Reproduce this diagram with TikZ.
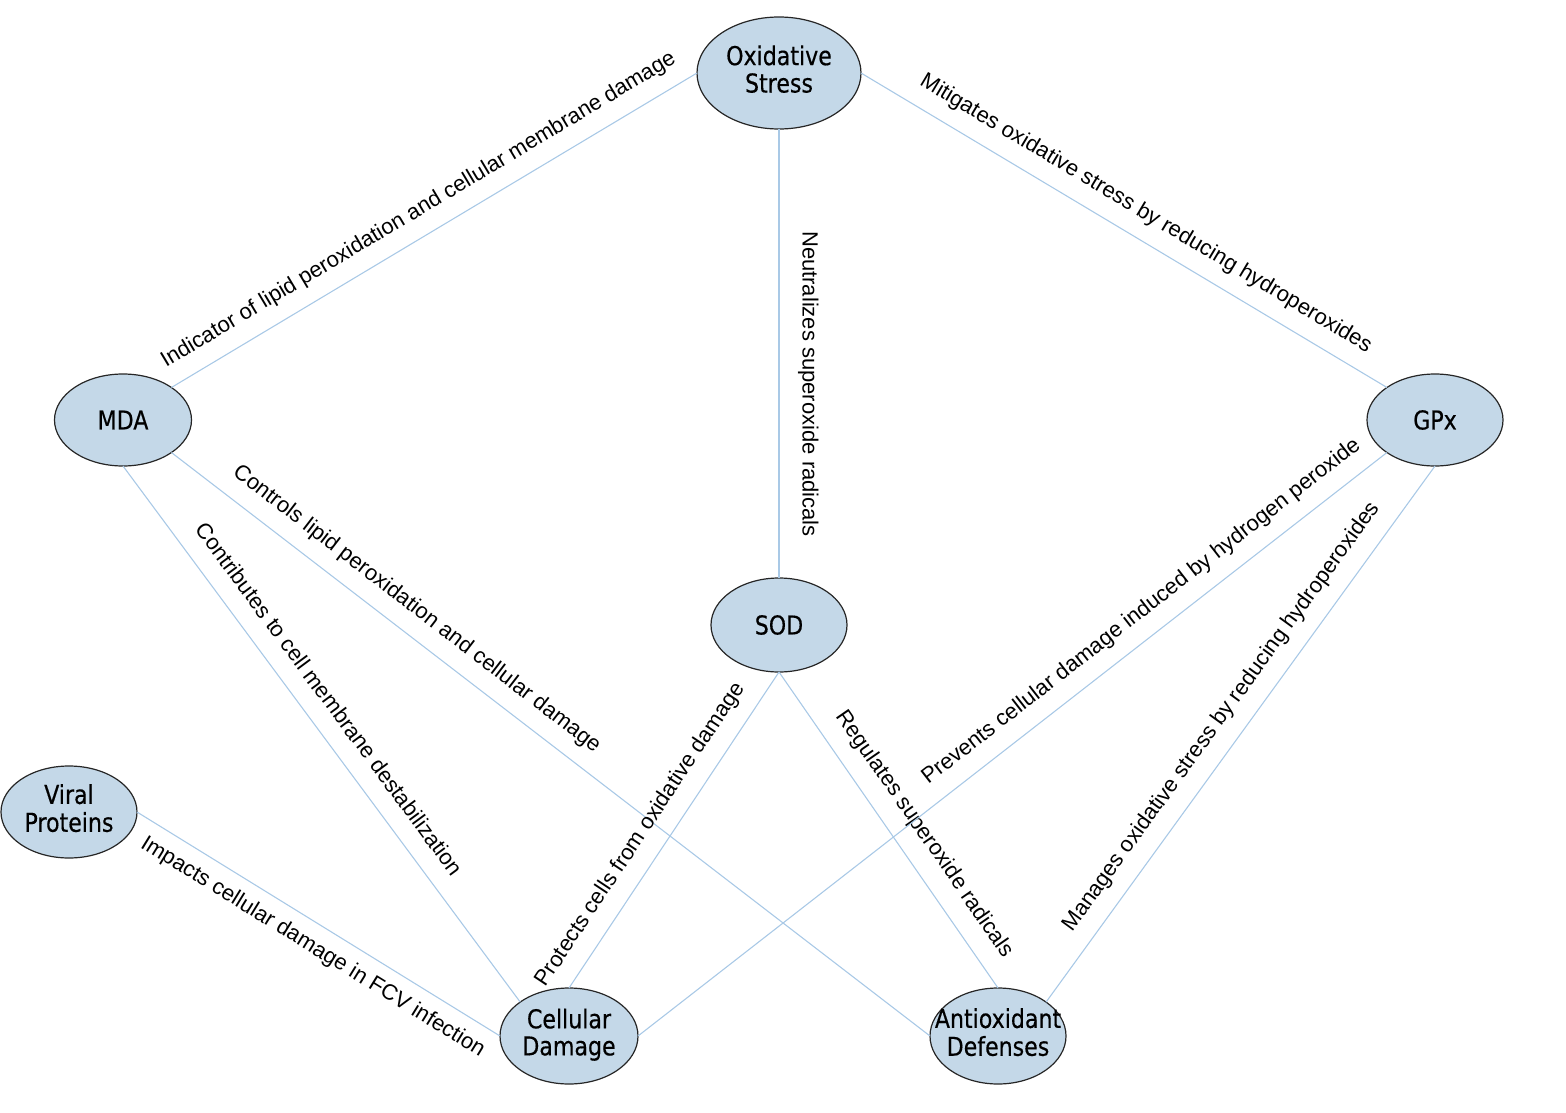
\documentclass[tikz,border=0pt]{standalone}
\usepackage{fontspec}
\setmainfont{Liberation Sans}
\newfontfamily\nodefont[FakeStretch=0.85,FakeBold=0.4]{DejaVu Sans}
\usetikzlibrary{shapes.geometric}
\definecolor{nodefill}{HTML}{C4D8E8}
\definecolor{edgecol}{HTML}{A9C9E6}
\newcommand{\twol}[2]{\makebox[0pt][c]{\begin{tabular}{@{}c@{}}#1\\#2\end{tabular}}}
\begin{document}
\begin{tikzpicture}[x=1pt,y=-1pt,
  ent/.style={ellipse, draw=black!85, line width=1.2pt, fill=nodefill, inner sep=0pt, outer sep=0pt,
    font=\nodefont\fontsize{26}{27}\selectfont},
  rel/.style={draw=edgecol, line width=1.1pt},
  lab/.style={sloped, font=\fontsize{22}{26}\selectfont, inner xsep=0pt, text depth=0pt, text height=16pt},
  labA/.style={lab, anchor=south, inner ysep=19pt},
  labB/.style={lab, anchor=north, inner ysep=12pt}]
\useasboundingbox (0,0) rectangle (1566,1113);
\node[ent, minimum width=164, minimum height=112] (os) at (779,73) {\twol{Oxidative}{Stress}};
\node[ent, minimum width=137, minimum height=92] (mda) at (123,420) {MDA};
\node[ent, minimum width=136, minimum height=92] (gpx) at (1435,420) {GPx};
\node[ent, minimum width=136, minimum height=94] (sod) at (779,625) {SOD};
\node[ent, minimum width=136, minimum height=92] (vir) at (69,812) {\twol{Viral}{Proteins}};
\node[ent, minimum width=138, minimum height=96] (cel) at (569,1036) {\twol{Cellular}{Damage}};
\node[ent, minimum width=136, minimum height=96] (ant) at (998,1036) {\twol{Antioxidant}{Defenses}};

\draw[rel] (mda.north east) -- node[labA, pos=0.495]{Indicator of lipid peroxidation and cellular membrane damage} (os.west);
\draw[rel] (os.south) -- node[labA, pos=0.568, inner ysep=23pt]{Neutralizes superoxide radicals} (sod.north);
\draw[rel] (os.east) -- node[labA, pos=0.517]{Mitigates oxidative stress by reducing hydroperoxides} (gpx.north west);
\draw[rel] (mda.south east) -- node[labA, pos=0.303]{Controls lipid peroxidation and cellular damage} (ant.west);
\draw[rel] (mda.south) -- node[labA, pos=0.465]{Contributes to cell membrane destabilization} (cel.north west);
\draw[rel] (vir.east) -- node[labB, pos=0.517]{Impacts cellular damage in FCV infection} (cel.west);
\draw[rel] (cel.north) -- node[labA, pos=0.441]{Protects cells from oxidative damage} (sod.south);
\draw[rel] (sod.south) -- node[labA, pos=0.562, inner ysep=21pt]{Regulates superoxide radicals} (ant.north);
\draw[rel] (cel.east) -- node[labA, pos=0.693]{Prevents cellular damage induced by hydrogen peroxide} (gpx.south west);
\draw[rel] (ant.north east) -- node[labA, pos=0.504]{Manages oxidative stress by reducing hydroperoxides} (gpx.south);
\end{tikzpicture}
\end{document}
